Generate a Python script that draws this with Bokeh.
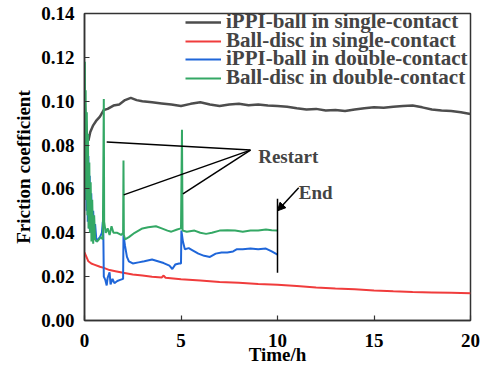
from bokeh.plotting import figure
from bokeh.models import Range1d, FixedTicker, Legend, LegendItem, Arrow, NormalHead, Label
from bokeh.embed import file_html
from bokeh.resources import INLINE

# ---- data ----
black_t = [0, 0.05, 0.12, 0.2, 0.3, 0.45, 0.6, 0.8, 1.0, 1.2, 1.5, 1.8, 2.1, 2.4, 2.7, 3.0, 3.5, 4.0, 4.5, 5.0,
           5.5, 6.0, 6.5, 7.0, 7.5, 8.0, 8.5, 9.0, 9.5, 10.0, 10.5, 11.0, 11.5, 12.0, 12.5, 13.0, 13.5, 14.0,
           14.5, 15.0, 15.5, 16.0, 16.5, 17.0, 17.5, 18.0, 18.5, 19.0, 19.5, 20.0]
black_v = [0.101, 0.094, 0.085, 0.082, 0.086, 0.089, 0.091, 0.093, 0.096, 0.0965, 0.098, 0.0985, 0.1005, 0.1015,
           0.1005, 0.1000, 0.0995, 0.0990, 0.0985, 0.0978, 0.0988, 0.0995, 0.0985, 0.0978, 0.0985, 0.0988, 0.0982,
           0.0985, 0.0980, 0.0978, 0.0975, 0.0968, 0.0962, 0.0965, 0.0958, 0.0960, 0.0955, 0.0962, 0.0968, 0.0972,
           0.0970, 0.0975, 0.0978, 0.0980, 0.0972, 0.0962, 0.0958, 0.0955, 0.0950, 0.0942]

red_t = [0, 0.1, 0.2, 0.35, 0.5, 0.8, 1.0, 1.3, 1.6, 2.0, 2.5, 3.0, 3.5, 4.0, 4.1, 4.2, 5.0, 6.0, 7.0, 8.0, 9.0,
         10.0, 11.0, 12.0, 13.0, 14.0, 15.0, 16.0, 17.0, 18.0, 19.0, 20.0]
red_v = [0.031, 0.029, 0.027, 0.026, 0.0255, 0.0245, 0.024, 0.023, 0.0225, 0.0218, 0.021, 0.0205, 0.020, 0.0196,
         0.0205, 0.0195, 0.0188, 0.0182, 0.0176, 0.0172, 0.0167, 0.0163, 0.0157, 0.0151, 0.0146, 0.0142, 0.0137,
         0.0133, 0.0130, 0.0128, 0.0126, 0.0124]

blue_t = [0.00, 0.02, 0.05, 0.08, 0.11, 0.14, 0.17, 0.2, 0.23, 0.27, 0.3, 0.35, 0.4, 0.45, 0.5, 0.55, 0.62, 0.7,
          0.8, 0.9, 0.95, 0.97, 1.0, 1.08, 1.15, 1.2, 1.3, 1.35, 1.45, 1.55, 1.7, 1.85, 2.0, 2.02, 2.1, 2.2, 2.3,
          2.5, 2.8, 3.1, 3.5, 3.8, 4.1, 4.4, 4.55, 4.7, 4.9, 5.0, 5.02, 5.1, 5.2, 5.4, 5.6, 5.9, 6.2, 6.5, 6.8,
          7.1, 7.4, 7.7, 7.9, 8.2, 8.6, 9.0, 9.4, 9.7, 10.0]
blue_v = [0.055, 0.092, 0.062, 0.088, 0.050, 0.082, 0.045, 0.075, 0.042, 0.066, 0.040, 0.058, 0.042, 0.050, 0.038,
          0.044, 0.036, 0.037, 0.038, 0.040, 0.045, 0.044, 0.020, 0.0185, 0.016, 0.0195, 0.022, 0.0165, 0.019,
          0.017, 0.018, 0.0185, 0.019, 0.039, 0.034, 0.029, 0.027, 0.026, 0.0265, 0.027, 0.0278, 0.027, 0.0262,
          0.025, 0.0235, 0.0255, 0.026, 0.026, 0.041, 0.036, 0.0325, 0.033, 0.032, 0.0305, 0.0295, 0.029, 0.0305,
          0.031, 0.031, 0.0315, 0.0325, 0.0325, 0.0328, 0.0325, 0.0328, 0.0315, 0.0300]

green_t = [0.00, 0.02, 0.04, 0.06, 0.09, 0.12, 0.15, 0.18, 0.21, 0.25, 0.28, 0.32, 0.36, 0.4, 0.45, 0.5, 0.55,
           0.65, 0.75, 0.85, 0.95, 1.0, 1.02, 1.1, 1.2, 1.3, 1.4, 1.5, 1.7, 1.9, 2.0, 2.02, 2.04, 2.1, 2.3, 2.6,
           3.0, 3.3, 3.7, 4.0, 4.3, 4.5, 4.8, 5.0, 5.05, 5.08, 5.3, 5.7, 6.0, 6.3, 6.6, 7.0, 7.4, 7.8, 8.2, 8.6,
           9.0, 9.4, 9.7, 10.0]
green_v = [0.060, 0.118, 0.070, 0.105, 0.055, 0.095, 0.048, 0.085, 0.042, 0.072, 0.040, 0.063, 0.036, 0.055,
           0.035, 0.048, 0.037, 0.036, 0.037, 0.038, 0.037, 0.101, 0.045, 0.040, 0.042, 0.039, 0.043, 0.040, 0.040,
           0.039, 0.040, 0.073, 0.039, 0.037, 0.038, 0.040, 0.042, 0.0425, 0.043, 0.042, 0.041, 0.0405, 0.0415,
           0.042, 0.087, 0.041, 0.0405, 0.041, 0.040, 0.0395, 0.040, 0.041, 0.0412, 0.041, 0.0405, 0.041, 0.041,
           0.0415, 0.0412, 0.041]

series_names = ["iPPI-ball in single-contact", "Ball-disc in single-contact",
                "iPPI-ball in double-contact", "Ball-disc in double-contact"]
series_colors = ["#4d4d4d", "#f03c3c", "#1f66d9", "#34a865"]

x_ticks = [0, 5, 10, 15, 20]
x_tick_labels = ["0", "5", "10", "15", "20"]
y_ticks = [0, 0.02, 0.04, 0.06, 0.08, 0.10, 0.12, 0.14]
y_tick_labels = ["0.00", "0.02", "0.04", "0.06", "0.08", "0.10", "0.12", "0.14"]

# annotations (data coordinates)
restart_origin = (8.6, 0.0777)
restart_targets_t = [1.15, 2.03, 5.1]
restart_targets_v = [0.0814, 0.0573, 0.0577]
restart_text_pos = (9.0, 0.075)
end_line_t = [10.0, 10.0]
end_line_v = [0.0218, 0.0555]
end_arrow = (11.1, 0.0605, 10.0, 0.050)
end_text_pos = (11.1, 0.0585)

FONT = "Liberation Serif"

p = figure(width=486, height=378, output_backend="svg", toolbar_location=None,
           x_range=Range1d(0, 20), y_range=Range1d(0, 0.14),
           min_border_left=84, min_border_right=16, min_border_top=13, min_border_bottom=58)
p.background_fill_color = "white"
p.border_fill_color = "white"
p.outline_line_color = "#333333"
p.outline_line_width = 1.5
p.xgrid.visible = False
p.ygrid.visible = False

renderers = []
for (t, v), c, w in zip([(black_t, black_v), (red_t, red_v), (blue_t, blue_v), (green_t, green_v)],
                        series_colors, [2.5, 2, 2, 2]):
    renderers.append(p.line(t, v, line_color=c, line_width=w))

# axes
for ax, ticks, labels in [(p.xaxis[0], x_ticks, x_tick_labels), (p.yaxis[0], y_ticks, y_tick_labels)]:
    ax.ticker = FixedTicker(ticks=ticks)
    ax.major_label_overrides = {tk: lb for tk, lb in zip(ticks, labels)}
    ax.major_tick_in = 5
    ax.major_tick_out = 0
    ax.minor_tick_line_color = None
    ax.axis_line_width = 1.5
    ax.axis_line_color = "#333333"
    ax.major_tick_line_color = "#333333"
    ax.major_tick_line_width = 1.2
    ax.major_label_text_font = FONT
    ax.major_label_text_font_style = "bold"
    ax.major_label_text_font_size = "19px"
    ax.major_label_text_color = "black"
    ax.axis_label_text_font = FONT
    ax.axis_label_text_font_style = "bold"
    ax.axis_label_text_font_size = "19px"
    ax.axis_label_text_color = "black"

p.xaxis.axis_label = "Time/h"
p.yaxis.axis_label = "Friction coefficient"
p.xaxis.major_label_standoff = 13
p.yaxis.major_label_standoff = 10
p.xaxis.axis_label_standoff = -6
p.yaxis.axis_label_standoff = 4

# annotation lines
p.segment(x0=[restart_origin[0]] * 3, y0=[restart_origin[1]] * 3,
          x1=restart_targets_t, y1=restart_targets_v, line_color="black", line_width=1.5)
p.line(end_line_t, end_line_v, line_color="black", line_width=1.5)
p.add_layout(Arrow(end=NormalHead(size=8, fill_color="black", line_color="black"),
                   x_start=end_arrow[0], y_start=end_arrow[1], x_end=end_arrow[2], y_end=end_arrow[3],
                   line_color="black", line_width=1.5))
p.add_layout(Label(x=restart_text_pos[0], y=restart_text_pos[1], text="Restart", text_font=FONT,
                   text_font_style="bold", text_font_size="19px", text_baseline="middle", text_align="left"))
p.add_layout(Label(x=end_text_pos[0], y=end_text_pos[1], text="End", text_font=FONT,
                   text_font_style="bold", text_font_size="19px", text_baseline="middle", text_align="left"))

# one legend per row, so the rows can sit as tightly as in the reference
legend_y = [286, 267, 249, 230]
for n, r, ly in zip(series_names, renderers, legend_y):
    lg = Legend(items=[LegendItem(label=n, renderers=[r])],
                location=(101, ly), border_line_color=None, background_fill_alpha=0,
                padding=0, spacing=0, margin=0, glyph_width=36, glyph_height=18, label_height=18,
                label_standoff=5, label_text_font=FONT, label_text_font_style="bold",
                label_text_font_size="21px")
    p.add_layout(lg, "center")

open("out.html", "w").write(file_html(p, INLINE))
